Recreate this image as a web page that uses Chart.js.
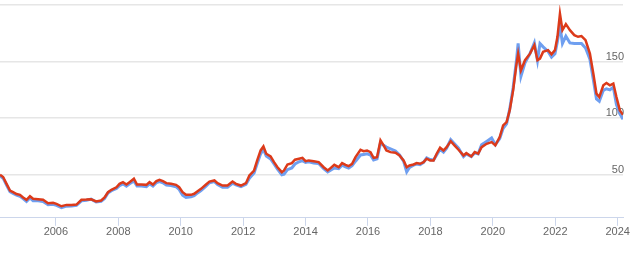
<!DOCTYPE html>
<html>
<head>
<meta charset="utf-8">
<script src="https://cdn.jsdelivr.net/npm/chart.js@4"></script>
<style>
    html, body { margin: 0; padding: 0; background: #fff; }
    #contenedor { width: 633px; height: 257px; position: relative; }
</style>
</head>
<body>
<div id="contenedor"><canvas id="grafico"></canvas></div>
<script>
// Fechas en años decimales (lectura mensual aproximada)
const fechas = [
    2004.21, 2004.31, 2004.42, 2004.53, 2004.63, 2004.74, 2004.85, 2004.95, 2005.06, 2005.17,
    2005.27, 2005.43, 2005.59, 2005.75, 2005.91, 2006.02, 2006.18, 2006.34, 2006.50, 2006.66,
    2006.82, 2006.98, 2007.13, 2007.29, 2007.45, 2007.56, 2007.67, 2007.78, 2007.94, 2008.04,
    2008.15, 2008.26, 2008.36, 2008.50, 2008.60, 2008.74, 2008.90, 2009.00, 2009.11, 2009.22,
    2009.32, 2009.43, 2009.54, 2009.69, 2009.85, 2009.95, 2010.06, 2010.17, 2010.33, 2010.43,
    2010.54, 2010.65, 2010.81, 2010.92, 2011.08, 2011.18, 2011.34, 2011.50, 2011.66, 2011.77,
    2011.93, 2012.09, 2012.20, 2012.35, 2012.45, 2012.56, 2012.65, 2012.74, 2012.88, 2012.99,
    2013.10, 2013.24, 2013.31, 2013.42, 2013.56, 2013.66, 2013.79, 2013.90, 2014.00, 2014.10,
    2014.26, 2014.42, 2014.58, 2014.71, 2014.80, 2014.92, 2015.06, 2015.17, 2015.28, 2015.38,
    2015.49, 2015.60, 2015.76, 2015.86, 2015.97, 2016.08, 2016.18, 2016.29, 2016.40, 2016.50,
    2016.59, 2016.72, 2016.88, 2017.01, 2017.14, 2017.24, 2017.33, 2017.46, 2017.56, 2017.67,
    2017.78, 2017.88, 2017.99, 2018.10, 2018.20, 2018.31, 2018.42, 2018.52, 2018.65, 2018.77,
    2018.90, 2019.06, 2019.15, 2019.31, 2019.42, 2019.53, 2019.64, 2019.80, 2019.96, 2020.08,
    2020.22, 2020.33, 2020.44, 2020.54, 2020.65, 2020.76, 2020.81, 2020.90, 2021.03, 2021.19,
    2021.33, 2021.43, 2021.51, 2021.61, 2021.77, 2021.88, 2021.99, 2022.07, 2022.15, 2022.23,
    2022.34, 2022.47, 2022.61, 2022.73, 2022.84, 2022.97, 2023.11, 2023.22, 2023.32, 2023.41,
    2023.54, 2023.64, 2023.75, 2023.86, 2023.96, 2024.07, 2024.17
];

// Serie roja
const serieRoja = [
    50, 48, 42, 36, 34.6, 33, 32.3, 30, 27.9, 31,
    28.8, 28.4, 27.9, 24.9, 25.2, 24.3, 22.2, 23.4, 23.4, 23.7,
    27.9, 28.1, 28.4, 26.4, 27.3, 30, 34.6, 36.7, 39, 42,
    43.5, 41.4, 43.5, 46.5, 41.4, 41.4, 41.1, 43.5, 41.4, 44.4,
    45.6, 44.4, 42.6, 42, 41.1, 39, 34.6, 32.3, 32.3, 33.2,
    35.5, 37.6, 41.4, 44, 45, 42.6, 40.5, 40.5, 44, 42,
    40.5, 42.6, 49.4, 53.8, 62.7, 71.5, 75, 68.6, 66.2, 61.2,
    56.7, 52.3, 53.8, 59.1, 60.3, 63.3, 64.2, 65, 62, 62.7,
    62, 61.2, 56.7, 53.8, 55.9, 58.8, 56.7, 60.3, 58.8, 57.6,
    59.7, 65.6, 72.1, 70.9, 71.5, 70, 65, 65.6, 80.4, 76,
    71.5, 70, 69.5, 67.1, 62.7, 56.7, 58.2, 59.1, 60.3, 59.7,
    61.2, 64.2, 62.7, 62.7, 68.6, 73.9, 71.5, 74.4, 79.7, 76,
    72.1, 67.1, 69.1, 66.2, 70, 68.6, 74.4, 77.4, 78.9, 76,
    83.3, 93.6, 96.6, 106.9, 124.6, 148.2, 157, 142.3, 151.2, 157,
    164.4, 151.2, 152.7, 158.6, 160.1, 156.5, 160.1, 171.9, 192.3, 177.8,
    183.1, 177.8, 173.4, 171.9, 172.6, 169, 157, 139.4, 121.7, 118.7,
    129.1, 131.1, 129.1, 130.6, 118.7, 106.9, 103
];

// Serie azul
const serieAzul = [
    49, 47, 41, 35, 33.5, 32, 31, 29, 26.5, 29.5,
    27, 27, 26.5, 23.5, 24, 23, 21, 22.3, 22.5, 23,
    27, 27.5, 28.5, 26, 26.5, 29, 34, 36, 38, 40.5,
    42, 40, 42, 44.5, 40, 40, 39.5, 42, 40, 43,
    44, 43, 41, 40.5, 39.5, 37, 32, 30, 30.5, 31.5,
    34, 36, 40, 43, 44, 41.5, 39, 39, 42.5, 41,
    39.5, 41.5, 47, 51.5, 60, 68.5, 72.5, 66.5, 64, 59.5,
    55, 50, 50.5, 54.5, 56, 59.5, 61.5, 62.5, 61, 61.5,
    60.5, 60, 55.5, 52.5, 54, 56, 55.5, 58.5, 57, 56,
    58, 62, 67.5, 68, 68.5, 67.5, 63, 64, 78, 76,
    74.5, 73, 71, 67.5, 62, 52.5, 56.5, 58.5, 59.5, 59,
    61, 65, 63.5, 63, 67.5, 72.5, 70, 73.5, 81, 77.5,
    73.5, 66, 68.5, 66, 69.5, 68.5, 76.5, 79.5, 82.5, 76.5,
    82, 91, 95, 108, 127, 152, 166, 137, 149, 157,
    166.5, 151, 166, 163, 159, 154, 157, 168, 182, 166,
    172.5, 166.5, 166, 166, 166, 162, 152, 134, 117, 115,
    124.6, 126, 125, 127.5, 112, 104, 99
];

// Marcas del eje
const anosEje = [2006, 2008, 2010, 2012, 2014, 2016, 2018, 2020, 2022, 2024];
const valoresEje = [50, 100, 150, 200];

function crearGrafico() {
    const ctx = document.getElementById('grafico').getContext('2d');

    const puntos = serie => fechas.map((f, i) => ({ x: f, y: serie[i] }));

    new Chart(ctx, {
        type: 'line',
        data: {
            datasets: [
                {
                    data: puntos(serieRoja),
                    borderColor: '#dc3a1a',
                    borderWidth: 2.5,
                    pointRadius: 0,
                    tension: 0
                },
                {
                    data: puntos(serieAzul),
                    borderColor: '#6f9ff0',
                    borderWidth: 3,
                    pointRadius: 0,
                    tension: 0
                }
            ]
        },
        options: {
            responsive: true,
            maintainAspectRatio: false,
            animation: false,
            layout: {
                padding: { left: 0, right: 8, top: 5, bottom: 18 }
            },
            scales: {
                x: {
                    type: 'linear',
                    min: 2004.21,
                    max: 2024.17,
                    afterBuildTicks: axis => {
                        axis.ticks = anosEje.map(v => ({ value: v }));
                    },
                    grid: {
                        drawOnChartArea: false,
                        drawTicks: true,
                        tickLength: 8,
                        color: '#ccd6eb'
                    },
                    border: { color: '#ccd6eb', width: 1 },
                    ticks: {
                        color: '#666',
                        font: { family: 'Liberation Sans', size: 11 },
                        maxRotation: 0,
                        autoSkip: false,
                        padding: 0,
                        callback: v => String(v)
                    }
                },
                y: {
                    position: 'right',
                    min: 12,
                    max: 200,
                    afterBuildTicks: axis => {
                        axis.ticks = valoresEje.map(v => ({ value: v }));
                    },
                    afterFit: axis => {
                        // sin margen extra por las etiquetas
                        axis.paddingTop = 0;
                        axis.paddingBottom = 0;
                    },
                    grid: {
                        color: '#e6e6e6',
                        lineWidth: 1.5,
                        drawTicks: false
                    },
                    border: { display: false },
                    ticks: {
                        mirror: true,
                        padding: 1,
                        labelOffset: -5,
                        color: '#666',
                        font: { family: 'Liberation Sans', size: 11 },
                        callback: v => (v === 200 ? '' : String(v))
                    }
                }
            },
            plugins: {
                legend: { display: false },
                tooltip: { enabled: false }
            }
        }
    });
}

crearGrafico();
</script>
</body>
</html>
